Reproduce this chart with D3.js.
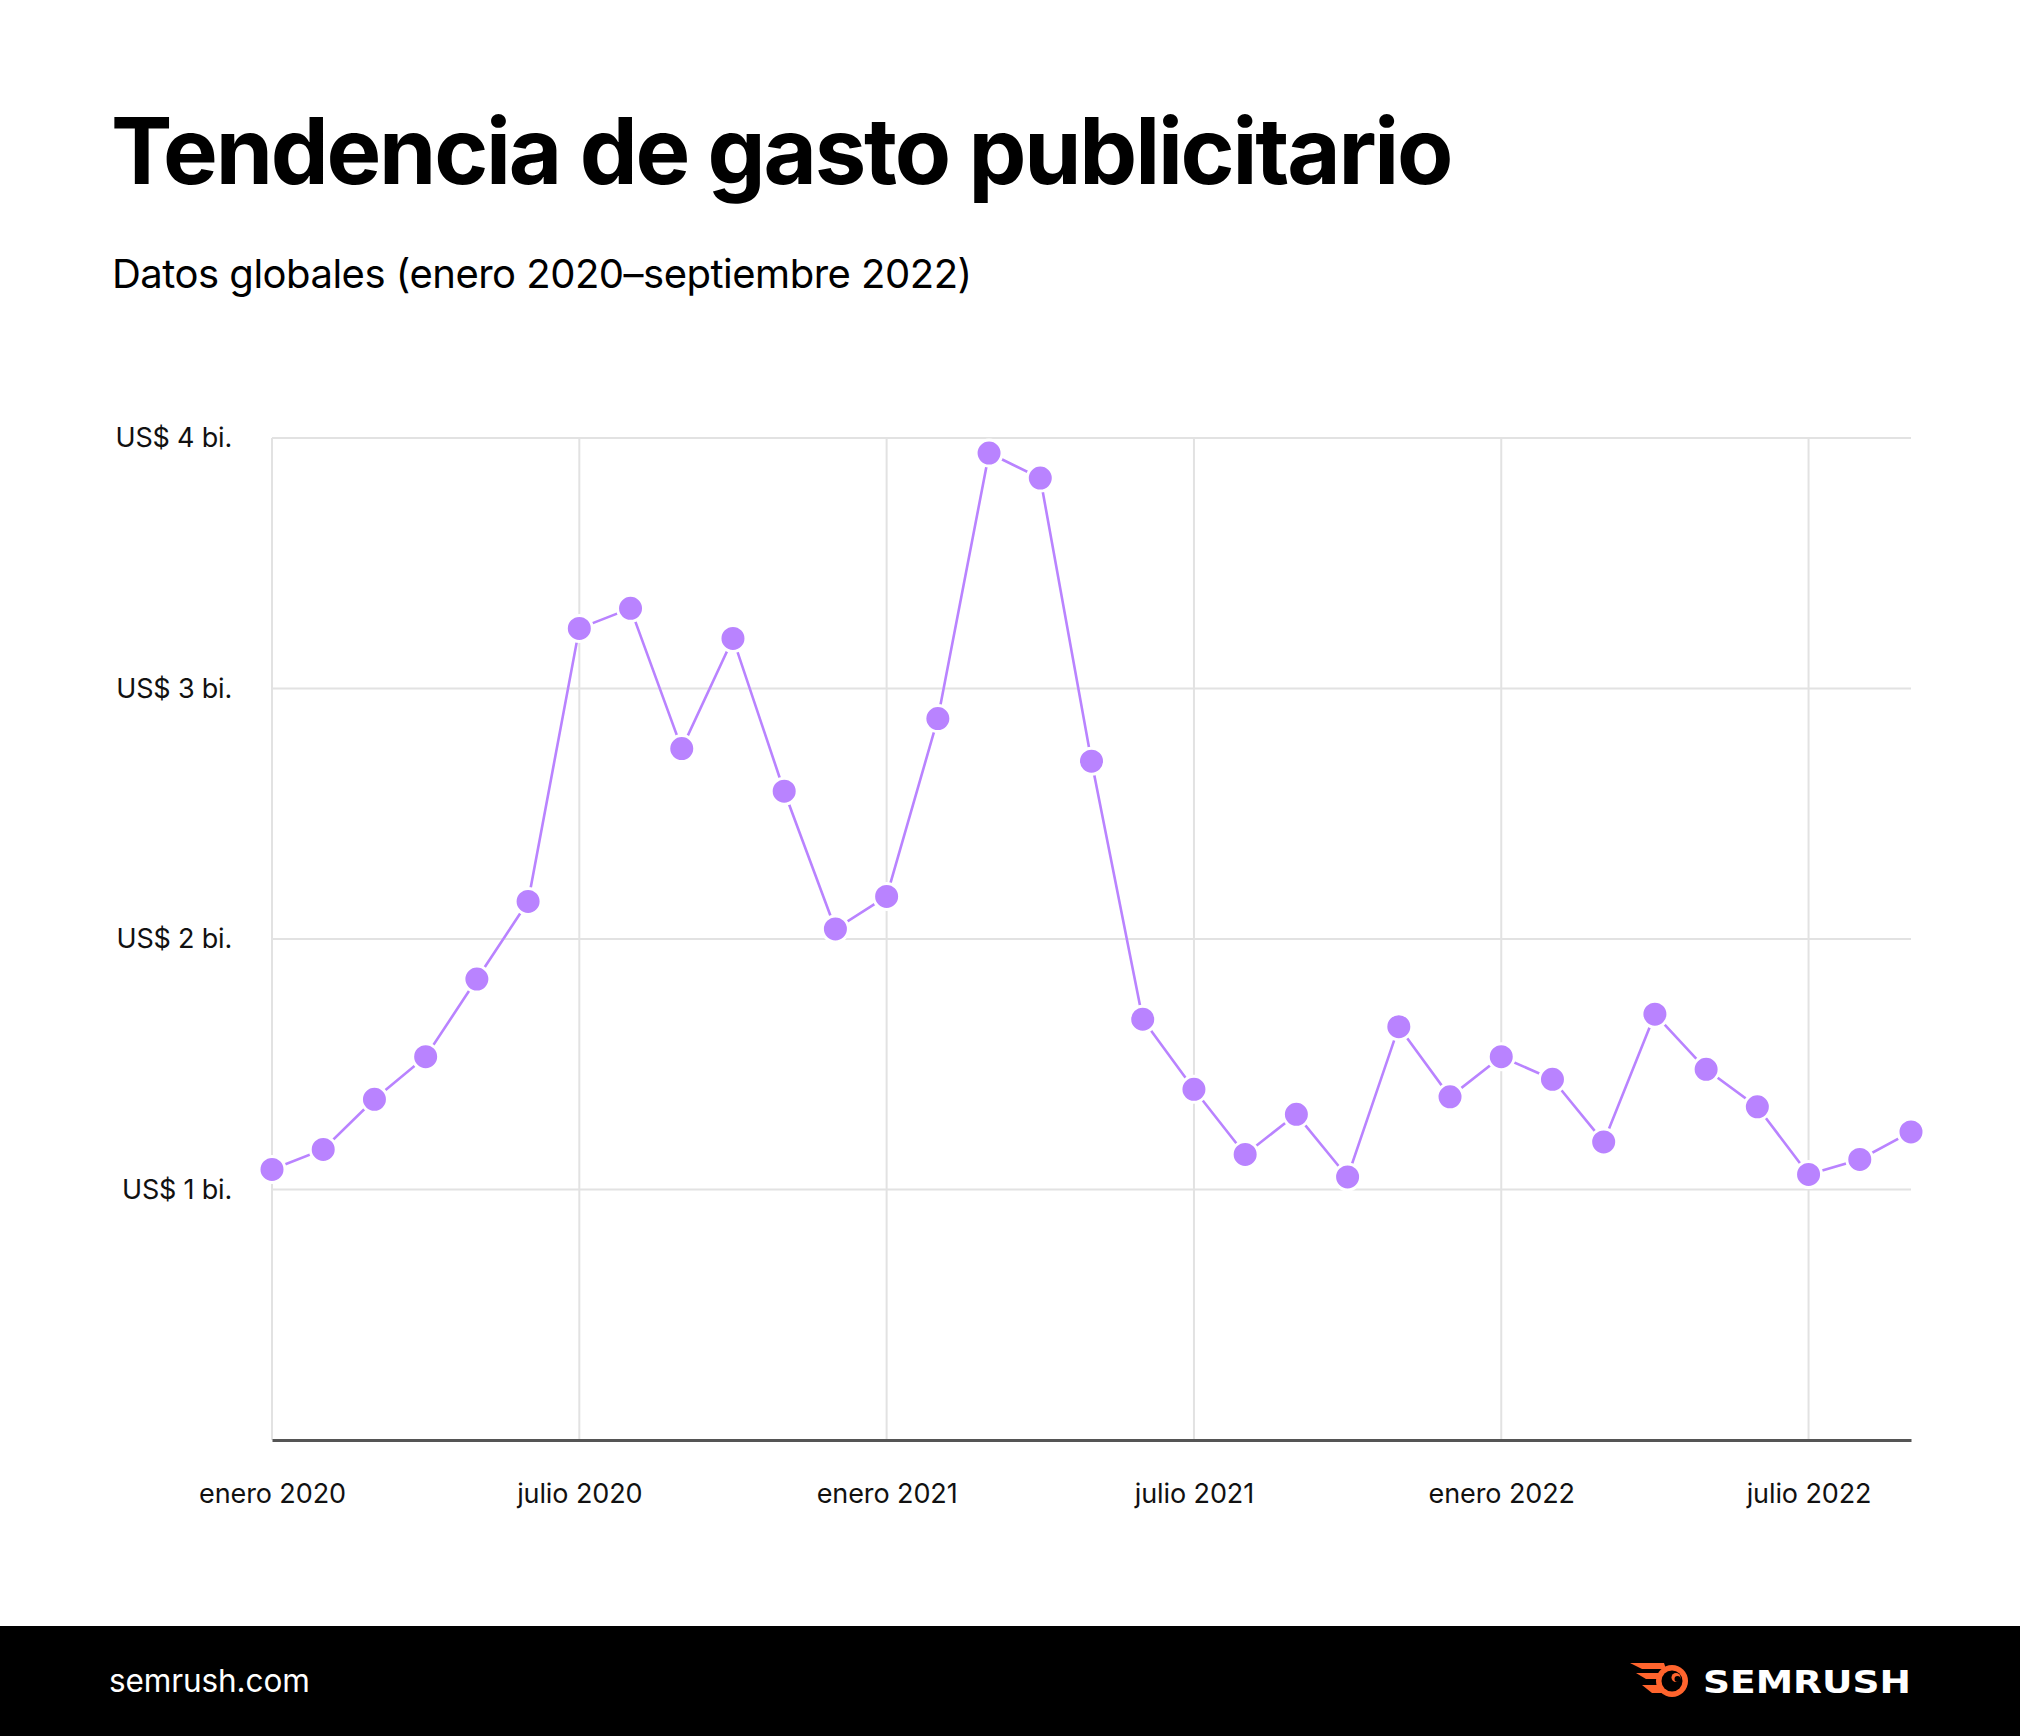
<!DOCTYPE html>
<html>
<head>
<meta charset="utf-8">
<script src="https://cdn.jsdelivr.net/npm/d3@7"></script>
<style>
  html, body { margin: 0; padding: 0; background: #fff; }
  svg { display: block; }
</style>
</head>
<body>
<div id="chart"></div>
<script>
// gasto publicitario global, un punto por mes (miles de millones de US$)
const months = [
  "2020-01","2020-02","2020-03","2020-04","2020-05","2020-06",
  "2020-07","2020-08","2020-09","2020-10","2020-11","2020-12",
  "2021-01","2021-02","2021-03","2021-04","2021-05","2021-06",
  "2021-07","2021-08","2021-09","2021-10","2021-11","2021-12",
  "2022-01","2022-02","2022-03","2022-04","2022-05","2022-06",
  "2022-07","2022-08","2022-09"
];
const spend = [
  1.08, 1.16, 1.36, 1.53, 1.84, 2.15,
  3.24, 3.32, 2.76, 3.20, 2.59, 2.04,
  2.17, 2.88, 3.94, 3.84, 2.71, 1.68,
  1.40, 1.14, 1.30, 1.05, 1.65, 1.37,
  1.53, 1.44, 1.19, 1.70, 1.48, 1.33,
  1.06, 1.12, 1.23
];
const yTicks = [1, 2, 3, 4];
const yTickLabels = ["US$ 1 bi.", "US$ 2 bi.", "US$ 3 bi.", "US$ 4 bi."];
const xTickMonths = ["2020-01","2020-07","2021-01","2021-07","2022-01","2022-07"];
const xTickLabels = ["enero 2020","julio 2020","enero 2021","julio 2021","enero 2022","julio 2022"];

const width = 2020, height = 1736;
const margin = {top: 438, right: 109, bottom: 296, left: 272};
const purple = "#b983ff";
const font = "Inter, 'Noto Sans', sans-serif";

const svg = d3.select("#chart").append("svg")
  .attr("width", width).attr("height", height);

svg.append("rect").attr("width", width).attr("height", height).attr("fill", "#fff");

// titulos
svg.append("text")
  .attr("x", 111).attr("y", 184)
  .attr("font-family", font).attr("font-weight", 700)
  .attr("font-size", 92).attr("letter-spacing", -2.2)
  .attr("fill", "#000")
  .text("Tendencia de gasto publicitario");

svg.append("text")
  .attr("x", 112).attr("y", 288)
  .attr("font-family", font).attr("font-weight", 400)
  .attr("font-size", 40).attr("letter-spacing", -0.5)
  .attr("fill", "#000")
  .text("Datos globales (enero 2020\u2013septiembre 2022)");

const x = d3.scalePoint()
  .domain(months)
  .range([margin.left, width - margin.right]);

const y = d3.scaleLinear()
  .domain([0, 4])
  .range([height - margin.bottom, margin.top]);

const g = svg.append("g");

// rejilla horizontal
g.append("g")
  .selectAll("line")
  .data(yTicks)
  .join("line")
    .attr("x1", margin.left).attr("x2", width - margin.right)
    .attr("y1", d => y(d)).attr("y2", d => y(d))
    .attr("stroke", "#e2e2e2").attr("stroke-width", 2);

// rejilla vertical (eje izquierdo incluido)
g.append("g")
  .selectAll("line")
  .data(xTickMonths)
  .join("line")
    .attr("x1", d => x(d)).attr("x2", d => x(d))
    .attr("y1", y(4)).attr("y2", y(0))
    .attr("stroke", "#e2e2e2").attr("stroke-width", 2);

// eje x
const xAxis = d3.axisBottom(x)
  .tickValues(xTickMonths)
  .tickSize(0)
  .tickPadding(44)
  .tickFormat((d, i) => xTickLabels[i]);

const xg = g.append("g")
  .attr("transform", `translate(0,${y(0)})`)
  .call(xAxis);
xg.select(".domain").attr("stroke", "#555").attr("stroke-width", 3);
xg.selectAll("text")
  .attr("font-family", font).attr("font-size", 27)
  .attr("letter-spacing", -0.1)
  .attr("fill", "#111");

// eje y
const yAxis = d3.axisLeft(y)
  .tickValues(yTicks)
  .tickSize(0)
  .tickPadding(40)
  .tickFormat((d, i) => yTickLabels[i]);

const yg = g.append("g")
  .attr("transform", `translate(${margin.left},0)`)
  .call(yAxis);
yg.select(".domain").remove();
yg.selectAll("text")
  .attr("font-family", font).attr("font-size", 27)
  .attr("letter-spacing", -0.2)
  .attr("fill", "#111");

// linea
const line = d3.line()
  .x((d, i) => x(months[i]))
  .y(d => y(d));

g.append("path")
  .datum(spend)
  .attr("fill", "none")
  .attr("stroke", purple)
  .attr("stroke-width", 2.6)
  .attr("d", line);

g.append("g")
  .selectAll("circle")
  .data(spend)
  .join("circle")
    .attr("cx", (d, i) => x(months[i]))
    .attr("cy", d => y(d))
    .attr("r", 13)
    .attr("fill", purple)
    .attr("stroke", "#fff")
    .attr("stroke-width", 3);

// pie de pagina
const footY = 1626;
svg.append("rect")
  .attr("x", 0).attr("y", footY)
  .attr("width", width).attr("height", height - footY)
  .attr("fill", "#000");

svg.append("text")
  .attr("x", 109).attr("y", 1692)
  .attr("font-family", font).attr("font-size", 31.5)
  .attr("letter-spacing", -0.1)
  .attr("fill", "#fff")
  .text("semrush.com");

// logo
const logo = svg.append("g").attr("transform", "translate(1672,1681)");
const orange = "#ff642d";
logo.append("path")
  .attr("fill", orange)
  .attr("d", "M-42,-18 L-8,-18 L-6,-12 L-30,-12 Z M-36,-8 L-12,-8 L-13,-2 L-26,-2 Z M-30,4 L-12,4 L-8,12 L-20,12 Z");
logo.append("circle").attr("r", 16).attr("fill", orange);
logo.append("circle").attr("r", 10.5).attr("fill", "#000");
logo.append("circle").attr("cx", 4).attr("cy", -3.5).attr("r", 4.5).attr("fill", orange);
logo.append("circle").attr("cx", 5.5).attr("cy", -2).attr("r", 3).attr("fill", "#000");

svg.append("text")
  .attr("x", 1703).attr("y", 1693)
  .attr("font-family", "'DejaVu Sans', sans-serif").attr("font-weight", 700)
  .attr("font-size", 32)
  .attr("textLength", 208).attr("lengthAdjust", "spacingAndGlyphs")
  .attr("fill", "#fff")
  .text("SEMRUSH");
</script>
</body>
</html>
